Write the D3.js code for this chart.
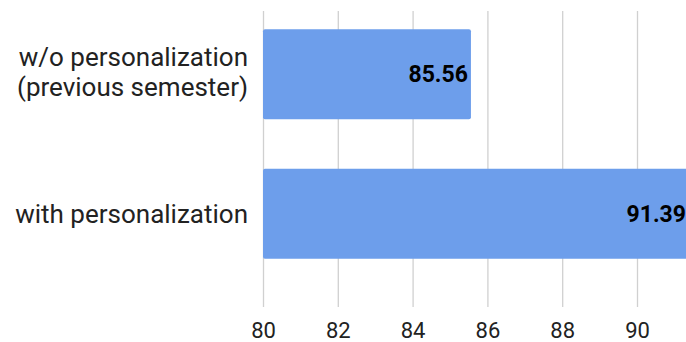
<!DOCTYPE html>
<html>
<head>
<meta charset="utf-8">
<script src="https://cdn.jsdelivr.net/npm/d3@7"></script>
<style>
  html, body { margin: 0; padding: 0; background: #fff; }
  svg { display: block; font-family: Roboto, "Noto Sans", sans-serif; }
</style>
</head>
<body>
<svg id="chart" width="686" height="342"></svg>
<script>
// Category labels (each entry is a list of text lines)
const categories = [
  ["w/o personalization", "(previous semester)"],
  ["with personalization"]
];
const values = [85.56, 91.39];
const tickValues = [80, 82, 84, 86, 88, 90];

const svg = d3.select("#chart");

const x = d3.scaleLinear().domain([80, 90]).range([263, 637]);
const y = d3.scaleBand()
  .domain(d3.range(categories.length))
  .range([4.5, 283.5])
  .paddingInner(0.355)
  .paddingOuter(0.177);

const gridTop = 11, gridBottom = 307;

// vertical gridlines + tick labels
const xAxis = d3.axisBottom(x)
  .tickValues(tickValues)
  .tickSize(-(gridBottom - gridTop))
  .tickPadding(15)
  .tickFormat(d3.format("d"));

const gx = svg.append("g")
  .attr("transform", `translate(0,${gridBottom})`)
  .call(xAxis);
gx.select(".domain").remove();
gx.selectAll(".tick line").attr("stroke", "#d0d0d0").attr("stroke-width", 1.3);
gx.selectAll(".tick text")
  .attr("fill", "#222")
  .attr("font-size", 22)
  .attr("font-family", "Roboto, sans-serif");

// bars
svg.append("g").selectAll("rect")
  .data(values)
  .join("rect")
  .attr("x", x(80))
  .attr("y", (d, i) => y(i))
  .attr("width", d => x(d) - x(80))
  .attr("height", y.bandwidth())
  .attr("rx", 2)
  .attr("fill", "#6d9eeb");

// value labels inside the bar ends
svg.append("g").selectAll("text")
  .data(values)
  .join("text")
  .attr("x", d => x(d) - 3)
  .attr("y", (d, i) => y(i) + y.bandwidth() / 2 + 8)
  .attr("text-anchor", "end")
  .attr("font-size", 23)
  .attr("font-weight", "bold")
  .attr("fill", "#000")
  .text(d => d.toFixed(2));

// category labels
const lineH = 30;
const catG = svg.append("g");
categories.forEach((lines, i) => {
  const cy = y(i) + y.bandwidth() / 2;
  const t = catG.append("text")
    .attr("x", 248)
    .attr("text-anchor", "end")
    .attr("font-size", 26)
    .attr("fill", "#222");
  lines.forEach((ln, j) => {
    t.append("tspan")
      .attr("x", 248)
      .attr("y", cy + 9 + (j - (lines.length - 1) / 2) * lineH - (lines.length > 1 ? 2 : 0))
      .text(ln);
  });
});
</script>
</body>
</html>
